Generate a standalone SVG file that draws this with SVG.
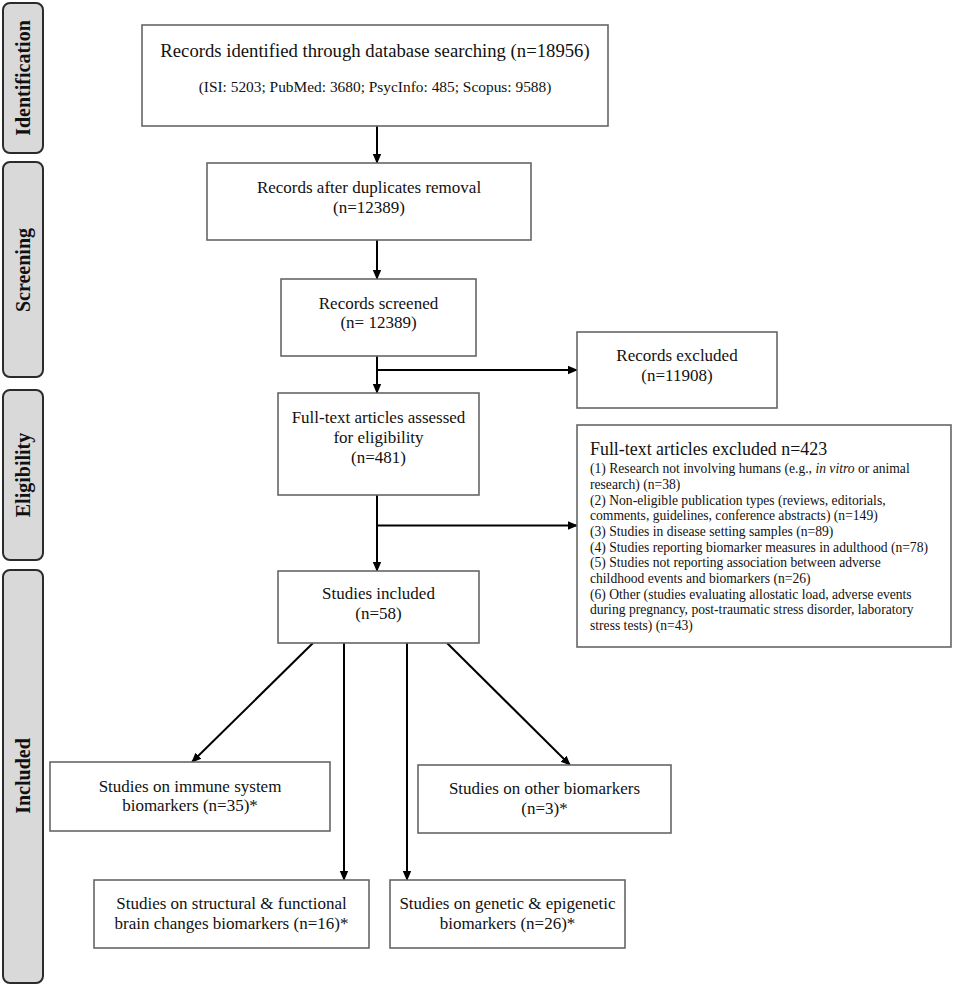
<svg xmlns="http://www.w3.org/2000/svg" width="957" height="990" viewBox="0 0 957 990">
<style>
.bg{fill:#ffffff}
.phase rect{fill:#d9d9d9;stroke:#2b2b2b;stroke-width:2}
.phase text{font-family:"Liberation Serif","Times New Roman",serif;font-weight:bold;font-size:20px;fill:#111;text-anchor:middle}
.node rect{fill:#ffffff;stroke:#666;stroke-width:1.6}
.node text{font-family:"Liberation Serif","Times New Roman",serif;font-size:17px;fill:#111;text-anchor:middle}
.node text.sub{font-size:15.4px}
.node text.ttl{font-size:17.9px;text-anchor:start}
.node text.lst{font-size:13.6px;text-anchor:start}
.conn line{stroke:#000;stroke-width:2;fill:none}
</style>
<defs>
<marker id="ah" markerWidth="10" markerHeight="10" refX="9" refY="5" orient="auto" markerUnits="userSpaceOnUse">
<path d="M0,0.8 L10,5 L0,9.2 Z" fill="#000"/>
</marker>
</defs>
<rect class="bg" x="0" y="0" width="957" height="990"/>

<g id="phase-identification" class="phase">
<rect x="3" y="3" width="40" height="150" rx="7"/>
<text transform="translate(30,78) rotate(-90)">Identification</text>
</g>
<g id="phase-screening" class="phase">
<rect x="3" y="162" width="40" height="215" rx="7"/>
<text transform="translate(30,270) rotate(-90)">Screening</text>
</g>
<g id="phase-eligibility" class="phase">
<rect x="3" y="390" width="40" height="170" rx="7"/>
<text transform="translate(30,475) rotate(-90)">Eligibility</text>
</g>
<g id="phase-included" class="phase">
<rect x="3" y="570" width="40" height="413" rx="7"/>
<text transform="translate(30,776) rotate(-90)">Included</text>
</g>

<g id="conn" class="conn">
<line x1="377" y1="126" x2="377" y2="163" marker-end="url(#ah)"/>
<line x1="377" y1="240" x2="377" y2="279" marker-end="url(#ah)"/>
<line x1="377" y1="356" x2="377" y2="393" marker-end="url(#ah)"/>
<line x1="377" y1="370" x2="577" y2="370" marker-end="url(#ah)"/>
<line x1="377" y1="495" x2="377" y2="571" marker-end="url(#ah)"/>
<line x1="377" y1="525.5" x2="577" y2="525.5" marker-end="url(#ah)"/>
<line x1="313" y1="643" x2="192" y2="762" marker-end="url(#ah)"/>
<line x1="344" y1="643" x2="344" y2="880" marker-end="url(#ah)"/>
<line x1="407" y1="643" x2="407" y2="880" marker-end="url(#ah)"/>
<line x1="447" y1="643" x2="570" y2="765" marker-end="url(#ah)"/>
</g>

<g id="n-identified" class="node">
<rect x="142" y="25" width="466" height="101"/>
<text x="375" y="57" style="font-size:18.7px">Records identified through database searching (n=18956)</text>
<text class="sub" x="375" y="92">(ISI: 5203; PubMed: 3680; PsycInfo: 485; Scopus: 9588)</text>
</g>
<g id="n-dedup" class="node">
<rect x="207" y="163" width="324" height="77"/>
<text x="369" y="193">Records after duplicates removal</text>
<text x="369" y="213">(n=12389)</text>
</g>
<g id="n-screened" class="node">
<rect x="281" y="279" width="195" height="77"/>
<text x="378.5" y="309">Records screened</text>
<text x="378.5" y="328">(n= 12389)</text>
</g>
<g id="n-excluded" class="node">
<rect x="577" y="332" width="200" height="76"/>
<text x="677" y="361">Records excluded</text>
<text x="677" y="381">(n=11908)</text>
</g>
<g id="n-fulltext" class="node">
<rect x="278" y="393" width="201" height="102"/>
<text x="378.5" y="423">Full-text articles assessed</text>
<text x="378.5" y="443">for eligibility</text>
<text x="378.5" y="463">(n=481)</text>
</g>
<g id="n-ftexcluded" class="node">
<rect x="577" y="425" width="374" height="222"/>
<text class="ttl" x="590" y="455">Full-text articles excluded n=423</text>
<text class="lst" x="590" y="473">(1) Research not involving humans (e.g., <tspan font-style="italic">in vitro</tspan> or animal</text>
<text class="lst" x="590" y="489">research) (n=38)</text>
<text class="lst" x="590" y="505">(2) Non-eligible publication types (reviews, editorials,</text>
<text class="lst" x="590" y="520">comments, guidelines, conference abstracts) (n=149)</text>
<text class="lst" x="590" y="536">(3) Studies in disease setting samples (n=89)</text>
<text class="lst" x="590" y="552">(4) Studies reporting biomarker measures in adulthood (n=78)</text>
<text class="lst" x="590" y="567">(5) Studies not reporting association between adverse</text>
<text class="lst" x="590" y="583">childhood events and biomarkers (n=26)</text>
<text class="lst" x="590" y="599">(6) Other (studies evaluating allostatic load, adverse events</text>
<text class="lst" x="590" y="614">during pregnancy, post-traumatic stress disorder, laboratory</text>
<text class="lst" x="590" y="630">stress tests) (n=43)</text>
</g>
<g id="n-included" class="node">
<rect x="278" y="571" width="201" height="72"/>
<text x="378.5" y="599">Studies included</text>
<text x="378.5" y="619">(n=58)</text>
</g>
<g id="n-immune" class="node">
<rect x="50" y="762" width="280" height="69"/>
<text x="190" y="792">Studies on immune system</text>
<text x="190" y="811">biomarkers (n=35)*</text>
</g>
<g id="n-other" class="node">
<rect x="418" y="765" width="253" height="68"/>
<text x="544.5" y="794">Studies on other biomarkers</text>
<text x="544.5" y="814">(n=3)*</text>
</g>
<g id="n-brain" class="node">
<rect x="94" y="880" width="275" height="68"/>
<text x="231.5" y="909">Studies on structural &amp; functional</text>
<text x="231.5" y="929">brain changes biomarkers (n=16)*</text>
</g>
<g id="n-genetic" class="node">
<rect x="390" y="880" width="235" height="68"/>
<text x="507.5" y="909">Studies on genetic &amp; epigenetic</text>
<text x="507.5" y="929">biomarkers (n=26)*</text>
</g>
</svg>
